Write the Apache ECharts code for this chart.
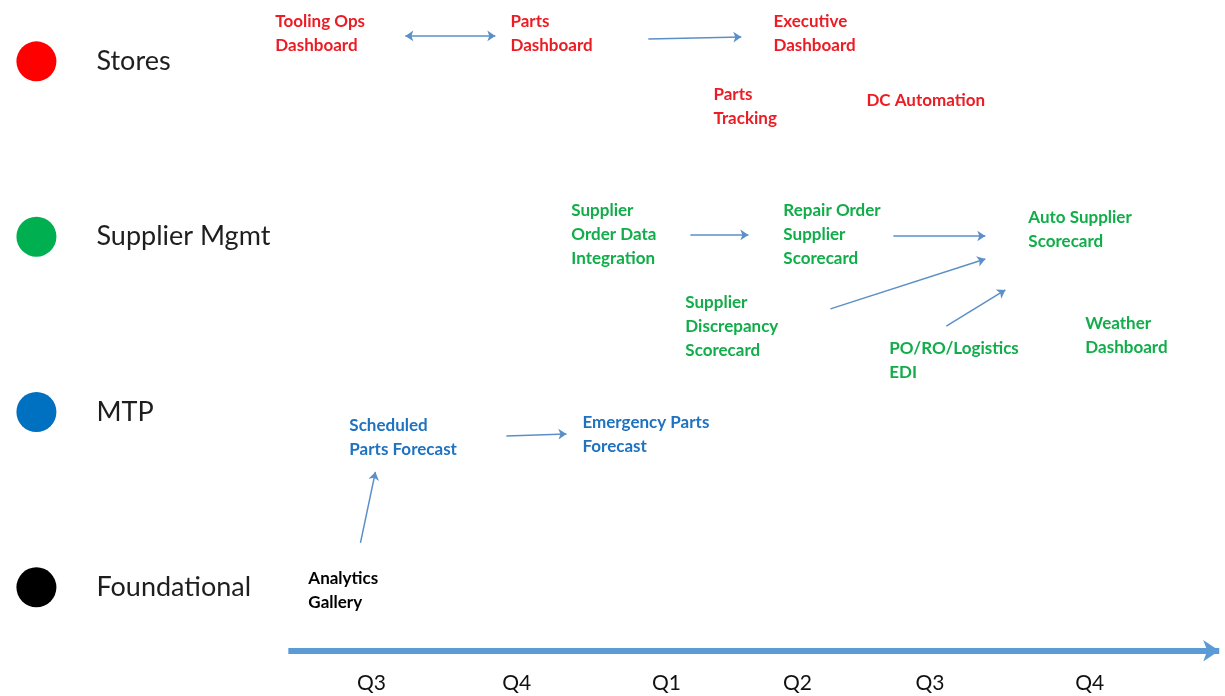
<!DOCTYPE html>
<html>
<head>
<meta charset="utf-8">
<script src="https://cdn.jsdelivr.net/npm/echarts@6/dist/echarts.min.js"></script>
<style>html,body{margin:0;padding:0;background:#fff}#c{width:1225px;height:696px}</style>
</head>
<body>
<div id="c"></div>
<script>
// Tracks (rows): y value of each row
const trackNames = ['Stores', 'Supplier Mgmt', 'MTP', 'Foundational'];
const trackRows = [3, 2, 1, 0];
const trackColors = ['#ff0000', '#00b050', '#0070c0', '#000000'];
const itemColors = ['#ec1c24', '#12ad4a', '#1f72c0', '#000000'];

// Timeline quarters (x in quarter units, Q3 first = 0)
const quarterLabels = ['Q3', 'Q4', 'Q1', 'Q2', 'Q3', 'Q4'];
const quarterPos = [0, 1.01, 2.05, 2.96, 3.88, 4.99];
const timelineStart = -0.577;
const timelineRow = -0.362;
const quarterRow = -0.545;

// Roadmap items
const itemLabels = [
  'Tooling Ops\nDashboard', 'Parts\nDashboard', 'Executive\nDashboard', 'Parts\nTracking', 'DC Automation',
  'Supplier\nOrder Data\nIntegration', 'Repair Order\nSupplier\nScorecard', 'Auto Supplier\nScorecard',
  'Supplier\nDiscrepancy\nScorecard', 'PO/RO/Logistics\nEDI', 'Weather\nDashboard',
  'Scheduled\nParts Forecast', 'Emergency Parts\nForecast',
  'Analytics\nGallery'
];
const itemX = [-0.667, 0.966, 2.793, 2.376, 3.439, 1.389, 2.862, 4.564, 2.181, 3.598, 4.960, -0.153, 1.466, -0.438];
const itemY = [3.156, 3.156, 3.156, 2.740, 2.774, 2.010, 2.010, 2.038, 1.485, 1.296, 1.439, 0.857, 0.874, -0.021];
const itemTrack = [0, 0, 0, 0, 0, 1, 1, 1, 1, 1, 1, 2, 2, 3];

// Arrows between items: [x1, y1] -> [x2, y2]
const arrowFromX = [0.236, 1.924, 2.216, 3.626, 3.189, 3.994, 0.938, -0.076];
const arrowFromY = [3.145, 3.127, 2.010, 2.004, 1.588, 1.490, 0.863, 0.253];
const arrowToX   = [0.861, 2.570, 2.619, 4.265, 4.265, 4.404, 1.355, 0.028];
const arrowToY   = [3.145, 3.139, 2.010, 2.004, 1.873, 1.696, 0.875, 0.658];
const arrowDouble = [true, false, false, false, false, false, false, false];

const X_MIN = -2.58, X_MAX = 5.93, Y_MIN = -0.62, Y_MAX = 3.35;
const markerX = -2.327, trackLabelX = -1.910;

const chart = echarts.init(document.getElementById('c'), null, {renderer: 'canvas'});

const itemData = itemLabels.map((t, i) => ({
  value: [itemX[i], itemY[i]],
  label: {color: itemColors[itemTrack[i]]},
  name: t
}));

const arrowData = arrowFromX.map((x, i) => ({
  coords: [[x, arrowFromY[i]], [arrowToX[i], arrowToY[i]]],
  symbol: arrowDouble[i] ? ['arrow', 'arrow'] : ['none', 'arrow']
}));

chart.setOption({
  animation: false,
  backgroundColor: '#ffffff',
  grid: {left: 0, right: 0, top: 0, bottom: 0},
  xAxis: {type: 'value', min: X_MIN, max: X_MAX, show: false},
  yAxis: {type: 'value', min: Y_MIN, max: Y_MAX, show: false},
  series: [
    {
      type: 'scatter',
      name: 'tracks',
      symbol: 'circle',
      symbolSize: 40,
      itemStyle: {opacity: 1},
      data: trackNames.map((n, i) => ({value: [markerX, trackRows[i]], name: n, itemStyle: {color: trackColors[i], opacity: 1}})),
      label: {show: false}
    },
    {
      type: 'scatter',
      name: 'trackLabels',
      symbolSize: 0,
      itemStyle: {opacity: 1},
      data: trackNames.map((n, i) => ({value: [trackLabelX, trackRows[i]], name: n})),
      label: {
        show: true, position: 'right', distance: 0, opacity: 1,
        formatter: p => p.name,
        fontFamily: 'Lato', fontSize: 27, color: '#1e1e1e'
      }
    },
    {
      type: 'scatter',
      name: 'items',
      symbolSize: 0,
      itemStyle: {opacity: 1},
      data: itemData,
      label: {
        show: true, position: 'right', distance: 0, opacity: 1,
        formatter: p => p.name,
        fontFamily: 'Lato', fontWeight: 'bold', fontSize: 17, lineHeight: 24
      }
    },
    {
      type: 'lines',
      coordinateSystem: 'cartesian2d',
      name: 'arrows',
      symbolSize: 8,
      lineStyle: {color: '#5b8fc7', width: 1.5, opacity: 1},
      data: arrowData
    },
    {
      type: 'lines',
      coordinateSystem: 'cartesian2d',
      name: 'timeline',
      symbol: ['none', 'arrow'],
      symbolSize: 16,
      lineStyle: {color: '#5b9bd5', width: 6, opacity: 1},
      data: [{coords: [[timelineStart, timelineRow], [X_MAX - 0.04, timelineRow]]}]
    },
    {
      type: 'scatter',
      name: 'quarters',
      symbolSize: 0,
      itemStyle: {opacity: 1},
      data: quarterLabels.map((q, i) => ({value: [quarterPos[i], quarterRow], name: q})),
      label: {
        show: true, position: 'inside', opacity: 1,
        formatter: p => p.name,
        fontFamily: 'Lato', fontSize: 21, color: '#111111'
      }
    }
  ]
});
</script>
</body>
</html>
